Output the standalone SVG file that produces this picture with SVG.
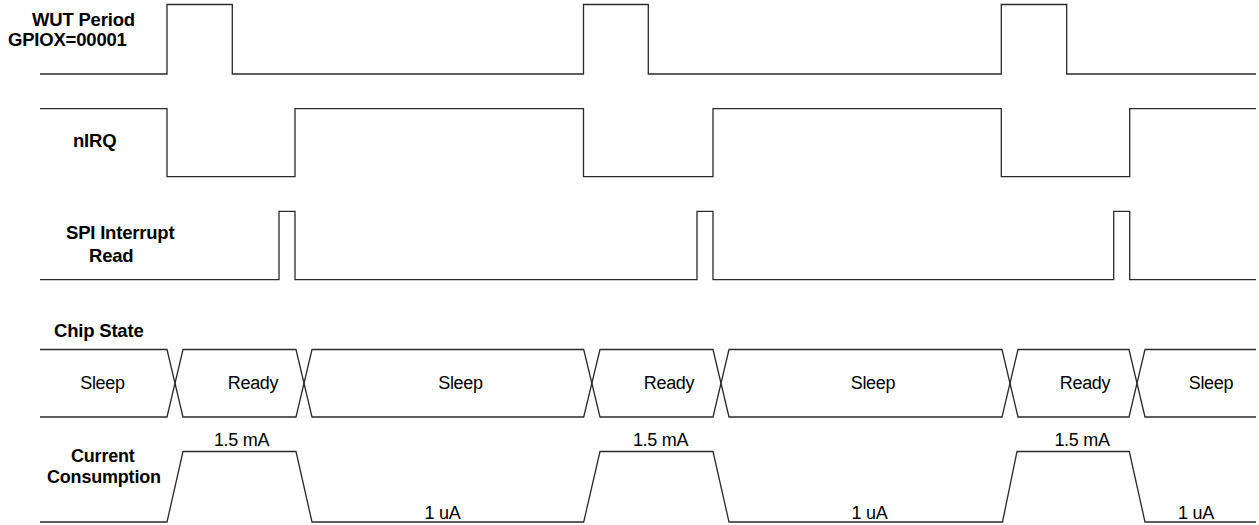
<svg xmlns="http://www.w3.org/2000/svg" width="1259" height="525" viewBox="0 0 1259 525">
<style>
.w{fill:none;stroke:#2a2a2a;stroke-width:1.3;stroke-linejoin:miter}
.lb{font-family:"Liberation Sans",Arial,sans-serif;font-size:18.5px;font-weight:bold;fill:#000;letter-spacing:-0.2px}
.lc{font-size:18px}
.t{font-family:"Liberation Sans",Arial,sans-serif;font-size:18px;fill:#000;text-anchor:middle;letter-spacing:-0.3px}
</style>
<rect width="1259" height="525" fill="#fff"/>
<g id="wut">
<text class="lb" x="32" y="26">WUT Period</text>
<text class="lb" x="8" y="46">GPIOX=00001</text>
</g>
<g id="nirq">
<text class="lb" x="73" y="147">nIRQ</text>
</g>
<g id="spi">
<text class="lb" x="66" y="239">SPI Interrupt</text>
<text class="lb" x="89" y="262">Read</text>
</g>
<g id="chipstate">
<text class="lb" x="54" y="337">Chip State</text>
<text class="t" x="102.5" y="389">Sleep</text>
<text class="t" x="253" y="389">Ready</text>
<text class="t" x="460.5" y="389">Sleep</text>
<text class="t" x="669" y="389">Ready</text>
<text class="t" x="873" y="389">Sleep</text>
<text class="t" x="1085" y="389">Ready</text>
<text class="t" x="1211" y="389">Sleep</text>
</g>
<g id="current">
<text class="lb lc" x="71" y="462">Current</text>
<text class="lb lc" x="47" y="483">Consumption</text>
<text class="t" x="241.5" y="445.5">1.5 mA</text>
<text class="t" x="660.5" y="445.5">1.5 mA</text>
<text class="t" x="1082" y="445.5">1.5 mA</text>
<text class="t" x="442.5" y="519">1 uA</text>
<text class="t" x="869.5" y="519">1 uA</text>
<text class="t" x="1196" y="519">1 uA</text>
</g>
<g id="connectors">
<path class="w" d="M40,74 H167 V4.5 H232.3 V74 H583.5 V4.5 H648.3 V74 H1001.3 V4.5 H1066.7 V74 H1256"/>
<path class="w" d="M40,108.7 H167 V176.7 H295 V108.7 H583.5 V176.7 H713 V108.7 H1001.3 V176.7 H1129.7 V108.7 H1256"/>
<path class="w" d="M40,279.7 H279 V211.3 H295 V279.7 H697 V211.3 H713 V279.7 H1113.7 V211.3 H1129.7 V279.7 H1256"/>
<path class="w" d="M40,349.5 H167 L183,417 H296 L312,349.5 H583.7 L600,417 H713 L729,349.5 H1002 L1018,417 H1129 L1145,349.5 H1256"/>
<path class="w" d="M40,417 H167 L183,349.5 H296 L312,417 H583.7 L600,349.5 H713 L729,417 H1002 L1018,349.5 H1129 L1145,417 H1256"/>
<path class="w" d="M40,522 H167 L183,451.5 H296 L312,522 H583.7 L600,451.5 H713 L729,522 H1002.5 L1017,451.5 H1129.3 L1145,522 H1256"/>
</g>
</svg>
